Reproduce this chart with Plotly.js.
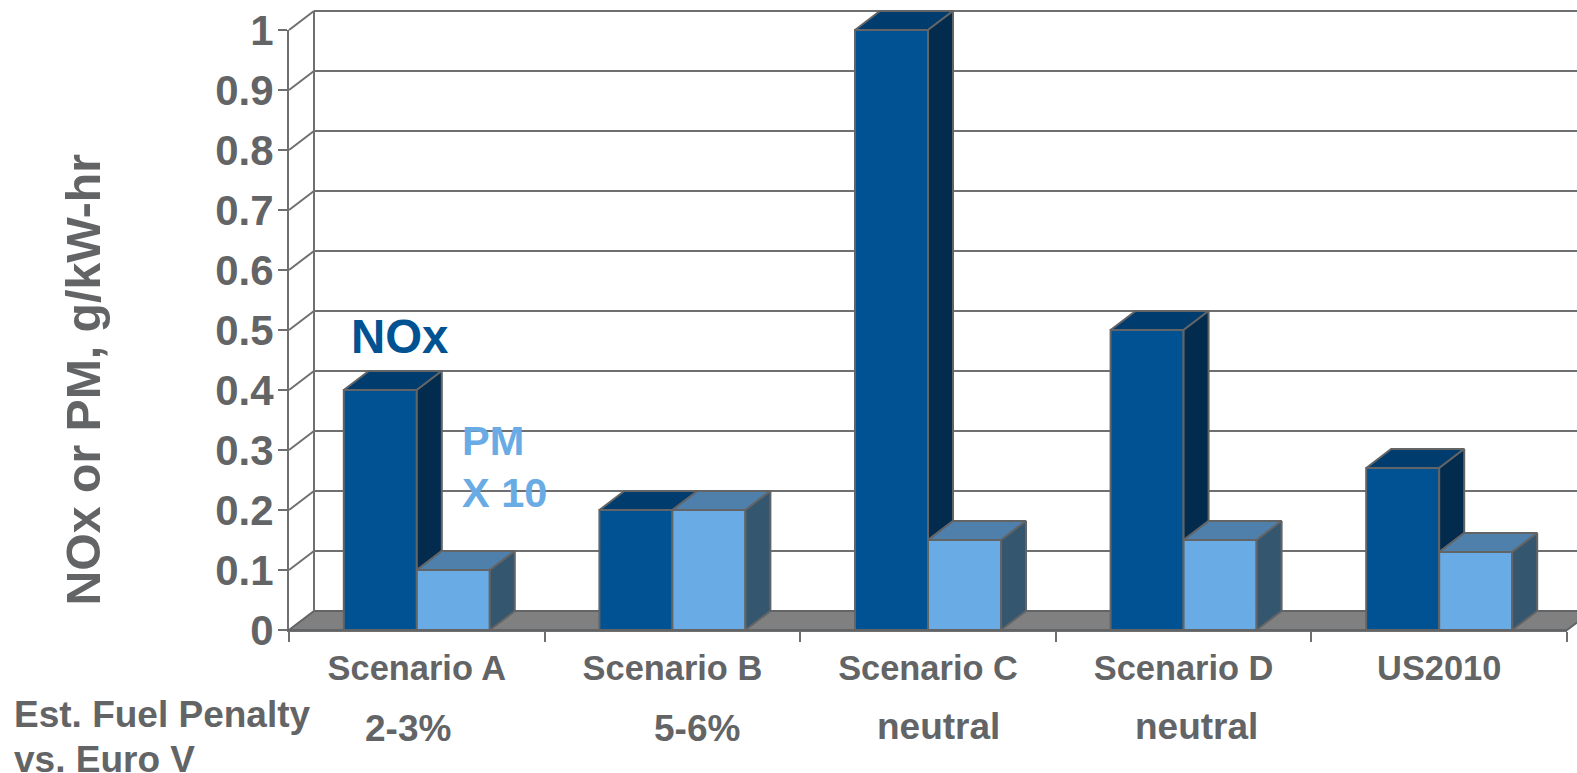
<!DOCTYPE html>
<html>
<head>
<meta charset="utf-8">
<script src="https://cdn.plot.ly/plotly-3.0.1.min.js"></script>
<style>html,body{margin:0;padding:0;background:#fff}#chart{width:1577px;height:773px}</style>
</head>
<body>
<div id="chart"></div>
<script>
// Emissions by scenario (PM is scaled by ten so it can share the NOx axis)
const scenarios = ['Scenario A', 'Scenario B', 'Scenario C', 'Scenario D', 'US2010'];
const noxValues = [0.40, 0.20, 1.00, 0.50, 0.27];
const pmValues = [0.10, 0.20, 0.15, 0.15, 0.13];
const fuelPenalties = ['2-3%', '5-6%', 'neutral', 'neutral'];
const yTicks = [0, 0.1, 0.2, 0.3, 0.4, 0.5, 0.6, 0.7, 0.8, 0.9, 1];
const yTickText = ['0', '0.1', '0.2', '0.3', '0.4', '0.5', '0.6', '0.7', '0.8', '0.9', '1'];

// Box geometry in axis units
const barWidth = 0.2856;
const depthX = 0.0978;
const depthY = 0.0317;

const centers = scenarios.map((_, i) => i + 0.5);
const edges = scenarios.map((_, i) => i).concat(scenarios.length);
const lastEdge = scenarios.length;

const pageW = 1577, pageH = 773;
// Front plane of the chart on the page
const frontLeft = 289, frontRight = 1567, frontTop = 30, frontBottom = 630;
const unitX = (frontRight - frontLeft) / lastEdge;
const unitY = frontBottom - frontTop;

const inkGrey = '#636466';
const edgeGrey = '#636466';
const gridGrey = '#6e6f71';
const font = 'Liberation Sans, Arial, sans-serif';

// Joins closed polygons into one trace path, separated by gaps
function faceTrace(polys, fill) {
  const x = [], y = [];
  polys.forEach(p => {
    p.forEach(pt => { x.push(pt[0]); y.push(pt[1]); });
    x.push(p[0][0], null);
    y.push(p[0][1], null);
  });
  return {
    type: 'scatter', mode: 'lines', x, y, xaxis: 'x2', yaxis: 'y2',
    fill: 'toself', fillcolor: fill,
    line: {color: edgeGrey, width: 2, simplify: false},
    hoverinfo: 'skip', showlegend: false
  };
}

const wallLine = (x0, y0, x1, y1) => ({
  type: 'line', layer: 'below', xref: 'x2', yref: 'y2', x0, y0, x1, y1,
  line: {color: gridGrey, width: 2}
});

// Floor, back wall and side wall
const shapes = [
  {
    type: 'path', layer: 'below', xref: 'x2', yref: 'y2',
    path: `M0,0 L${lastEdge},0 L${lastEdge + depthX},${depthY} L${depthX},${depthY} Z`,
    fillcolor: '#808080', line: {color: edgeGrey, width: 2}
  },
  wallLine(depthX, depthY, depthX, 1 + depthY)
];
yTicks.forEach(v => {
  if (v === 0) return;
  shapes.push(wallLine(0, v, depthX, v + depthY));
  shapes.push(wallLine(depthX, v + depthY, lastEdge + 2 * depthX, v + depthY));
});

// Top and side faces of the boxes, lifted from the bar values
const noxTop = [], noxSide = [], pmTop = [], pmSide = [];
centers.forEach((c, i) => {
  const n = noxValues[i], p = pmValues[i];
  const l = c - barWidth, r = c + barWidth;
  noxTop.push([[l, n], [c, n], [c + depthX, n + depthY], [l + depthX, n + depthY]]);
  if (n > p) noxSide.push([[c, n], [c + depthX, n + depthY], [c + depthX, p + depthY], [c, p]]);
  pmTop.push([[c, p], [r, p], [r + depthX, p + depthY], [c + depthX, p + depthY]]);
  pmSide.push([[r, p], [r + depthX, p + depthY], [r + depthX, depthY], [r, 0]]);
});

const barEdge = {color: edgeGrey, width: 2};
const noxBars = {
  type: 'bar', name: 'NOx', x: centers, y: noxValues, xaxis: 'x2', yaxis: 'y2',
  marker: {color: '#005292', line: barEdge}, showlegend: false
};
const pmBars = {
  type: 'bar', name: 'PM X 10', x: centers, y: pmValues, xaxis: 'x2', yaxis: 'y2',
  marker: {color: '#69ace5', line: barEdge}, showlegend: false
};
// Keeps the front axes drawn; it paints nothing itself
const axisHolder = {
  type: 'scatter', mode: 'markers', x: centers, y: noxValues,
  marker: {opacity: 0, size: 1}, hoverinfo: 'skip', showlegend: false
};

const traces = [
  axisHolder,
  noxBars, pmBars,
  faceTrace(noxTop, '#003c6e'),
  faceTrace(noxSide, '#022b4e'),
  faceTrace(pmTop, '#4f80ac'),
  faceTrace(pmSide, '#34566f')
];

// Free text placed in page pixels
const pageText = (text, px, py, size, color, anchor, angle) => ({
  text: '<b>' + text + '</b>',
  xref: 'paper', yref: 'paper',
  x: px / pageW, y: 1 - py / pageH,
  xanchor: anchor || 'center', yanchor: 'middle',
  showarrow: false, textangle: angle || 0,
  font: {family: font, size: size, color: color}
});

const penaltyX = [408, 697, 939, 1196];
const penaltyY = [728, 728, 726, 726];
const annotations = [
  pageText('NOx or PM, g/kW-hr', 82.5, 380, 48.2, inkGrey, 'center', -90),
  pageText('NOx', 399.5, 336, 47.4, '#005292'),
  pageText('PM', 460, 440, 41.5, '#69ace5', 'left'),
  pageText('X 10', 460, 492, 41.5, '#69ace5', 'left'),
  pageText('Est. Fuel Penalty', 12, 714, 37, inkGrey, 'left'),
  pageText('vs. Euro V', 12, 759, 37, inkGrey, 'left')
].concat(fuelPenalties.map((t, i) => pageText(t, penaltyX[i], penaltyY[i], 37, inkGrey)));

const layout = {
  width: pageW, height: pageH,
  margin: {l: 0, r: 0, t: 0, b: 0, pad: 0},
  paper_bgcolor: '#ffffff', plot_bgcolor: 'rgba(0,0,0,0)',
  showlegend: false,
  barmode: 'group', bargap: 1 - 2 * barWidth, bargroupgap: 0,
  // Visible axes sit on the front plane of the boxes
  xaxis: {
    domain: [frontLeft / pageW, frontRight / pageW], anchor: 'y',
    range: [0, lastEdge], showgrid: false, zeroline: false,
    showline: true, linecolor: gridGrey, linewidth: 2,
    tickmode: 'array', tickvals: centers, ticktext: scenarios.map(s => '<b>' + s + '</b>'),
    ticks: '', ticklabelstandoff: 7,
    tickfont: {family: font, size: 34.4, color: inkGrey},
    minor: {tickmode: 'array', tickvals: edges, ticks: 'outside', ticklen: 10, tickwidth: 2, tickcolor: gridGrey, showgrid: false}
  },
  yaxis: {
    domain: [1 - frontBottom / pageH, 1 - frontTop / pageH], anchor: 'x',
    range: [0, 1], showgrid: false, zeroline: false,
    showline: true, linecolor: gridGrey, linewidth: 2,
    tickmode: 'array', tickvals: yTicks, ticktext: yTickText.map(s => '<b>' + s + '</b>'),
    ticks: 'outside', ticklen: 9, tickwidth: 2, tickcolor: gridGrey,
    ticklabelstandoff: -4,
    tickfont: {family: font, size: 42, color: inkGrey}
  },
  // Same scale stretched over the whole page, so the depth of the boxes and walls is not cut off
  xaxis2: {
    domain: [0, 1], anchor: 'y2', visible: false,
    range: [-frontLeft / unitX, (pageW - frontLeft) / unitX]
  },
  yaxis2: {
    domain: [0, 1], anchor: 'x2', visible: false,
    range: [(frontBottom - pageH) / unitY, frontBottom / unitY]
  },
  shapes: shapes,
  annotations: annotations
};

Plotly.newPlot('chart', traces, layout, {displayModeBar: false, staticPlot: true});
</script>
</body>
</html>
